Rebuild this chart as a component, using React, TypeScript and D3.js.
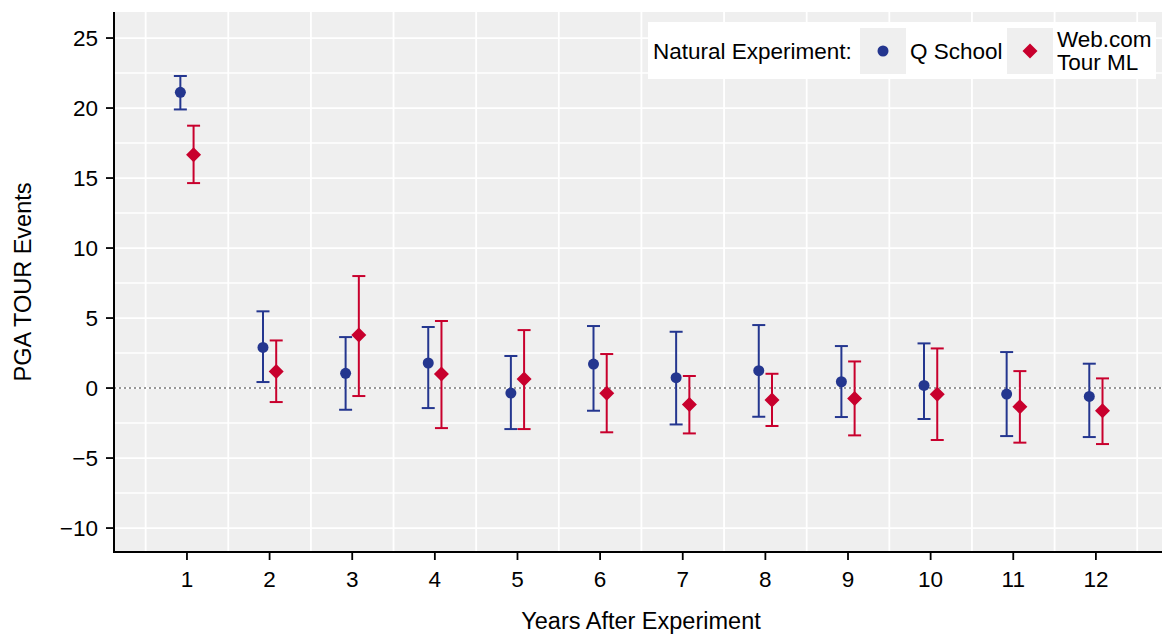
import React from "react";
import * as d3 from "d3";

// Years after the natural experiment
const years = [1, 2, 3, 4, 5, 6, 7, 8, 9, 10, 11, 12];

// Q School estimates with 95% interval bounds
const qEst = [21.12, 2.9, 1.05, 1.79, -0.36, 1.71, 0.74, 1.24, 0.45, 0.19, -0.43, -0.6];
const qLow = [19.9, 0.43, -1.55, -1.43, -2.93, -1.62, -2.6, -2.05, -2.07, -2.21, -3.43, -3.5];
const qHigh = [22.29, 5.48, 3.64, 4.36, 2.29, 4.43, 4.02, 4.5, 3.0, 3.19, 2.57, 1.74];

// Web.com Tour money-list estimates with 95% interval bounds
const wEst = [16.67, 1.19, 3.79, 1.0, 0.64, -0.38, -1.17, -0.86, -0.74, -0.45, -1.33, -1.62];
const wLow = [14.64, -1.0, -0.57, -2.86, -2.93, -3.16, -3.24, -2.71, -3.38, -3.71, -3.9, -4.0];
const wHigh = [18.74, 3.4, 8.0, 4.79, 4.14, 2.43, 0.86, 1.02, 1.9, 2.83, 1.21, 0.69];

const yTicks = [-10, -5, 0, 5, 10, 15, 20, 25];
const yMinor = [-7.5, -2.5, 2.5, 7.5, 12.5, 17.5, 22.5];
const xMinor = [0.5, 1.5, 2.5, 3.5, 4.5, 5.5, 6.5, 7.5, 8.5, 9.5, 10.5, 11.5, 12.5];

const BLUE = "#24368f";
const RED = "#c8002d";
const PANEL = "#efefef";
const FONT = "'Liberation Sans', Arial, Helvetica, sans-serif";

const W = 1162;
const H = 640;
const left = 114;
const right = 1162;
const top = 12;
const bottom = 552;

const x = d3.scaleLinear().domain([0.117, 12.8]).range([left, right]);
const y = d3.scaleLinear().domain([-11.71, 26.86]).range([bottom, top]);

const dodge = 0.08;
const capHalf = 6.5;

function ErrorBar({ cx, lo, hi, color }: { cx: number; lo: number; hi: number; color: string }) {
  const y1 = y(lo);
  const y2 = y(hi);
  return (
    <g stroke={color} strokeWidth={2}>
      <line x1={cx} x2={cx} y1={y1} y2={y2} />
      <line x1={cx - capHalf} x2={cx + capHalf} y1={y1} y2={y1} />
      <line x1={cx - capHalf} x2={cx + capHalf} y1={y2} y2={y2} />
    </g>
  );
}

const diamond = (cx: number, cy: number, r: number) =>
  `M${cx},${cy - r}L${cx + r},${cy}L${cx},${cy + r}L${cx - r},${cy}Z`;

export default function App() {
  const legX = 648;
  const legY = 22;
  return (
    <svg
      width={W}
      height={H}
      style={{ position: "absolute", left: 0, top: 0, background: "#fff" }}
      fontFamily={FONT}
    >
      <rect x={left} y={top} width={right - left} height={bottom - top} fill={PANEL} />
      {yMinor.map((v) => (
        <line key={"ym" + v} x1={left} x2={right} y1={y(v)} y2={y(v)} stroke="#fff" strokeWidth={1.6} />
      ))}
      {yTicks.map((v) => (
        <line key={"yg" + v} x1={left} x2={right} y1={y(v)} y2={y(v)} stroke="#fff" strokeWidth={1.8} />
      ))}
      {xMinor.map((v) => (
        <line key={"xm" + v} x1={x(v)} x2={x(v)} y1={top} y2={bottom} stroke="#fff" strokeWidth={1.8} />
      ))}
      <line
        x1={left}
        x2={right}
        y1={y(0)}
        y2={y(0)}
        stroke="#777"
        strokeWidth={1.4}
        strokeDasharray="2,3"
      />

      {years.map((yr, i) => (
        <g key={"q" + yr}>
          <ErrorBar cx={x(yr - dodge)} lo={qLow[i]} hi={qHigh[i]} color={BLUE} />
          <circle cx={x(yr - dodge)} cy={y(qEst[i])} r={5.5} fill={BLUE} />
        </g>
      ))}
      {years.map((yr, i) => (
        <g key={"w" + yr}>
          <ErrorBar cx={x(yr + dodge)} lo={wLow[i]} hi={wHigh[i]} color={RED} />
          <path d={diamond(x(yr + dodge), y(wEst[i]), 7.5)} fill={RED} />
        </g>
      ))}

      {/* axes */}
      <line x1={left} x2={left} y1={top} y2={bottom + 1} stroke="#000" strokeWidth={2} />
      <line x1={left - 1} x2={right} y1={bottom} y2={bottom} stroke="#000" strokeWidth={2} />
      {yTicks.map((v) => (
        <g key={"yt" + v}>
          <line x1={left - 8} x2={left} y1={y(v)} y2={y(v)} stroke="#000" strokeWidth={1.8} />
          <text x={left - 16} y={y(v)} dy="0.36em" textAnchor="end" fontSize={22.5} fill="#000">
            {v < 0 ? "\u2212" + Math.abs(v) : v}
          </text>
        </g>
      ))}
      {years.map((v) => (
        <g key={"xt" + v}>
          <line x1={x(v)} x2={x(v)} y1={bottom} y2={bottom + 8} stroke="#000" strokeWidth={1.8} />
          <text x={x(v)} y={587} textAnchor="middle" fontSize={22.5} fill="#000">
            {v}
          </text>
        </g>
      ))}
      <text x={641} y={629} textAnchor="middle" fontSize={23.5} fill="#000">
        Years After Experiment
      </text>
      <text
        transform={`translate(31,${(top + bottom) / 2}) rotate(-90)`}
        textAnchor="middle"
        fontSize={23.5}
        fill="#000"
      >
        PGA TOUR Events
      </text>

      {/* legend */}
      <rect x={legX} y={legY} width={508} height={57} fill="#fff" />
      <text x={653} y={59} fontSize={22.5} fill="#000">
        Natural Experiment:
      </text>
      <rect x={860} y={28} width={46} height={46} fill={PANEL} />
      <circle cx={883} cy={51} r={5.5} fill={BLUE} />
      <text x={910} y={59} fontSize={22.5} fill="#000">
        Q School
      </text>
      <rect x={1007} y={28} width={46} height={46} fill={PANEL} />
      <path d={diamond(1030, 51, 7.5)} fill={RED} />
      <text x={1057} y={47} fontSize={22.5} fill="#000">
        Web.com
      </text>
      <text x={1057} y={70} fontSize={22.5} fill="#000">
        Tour ML
      </text>
    </svg>
  );
}
